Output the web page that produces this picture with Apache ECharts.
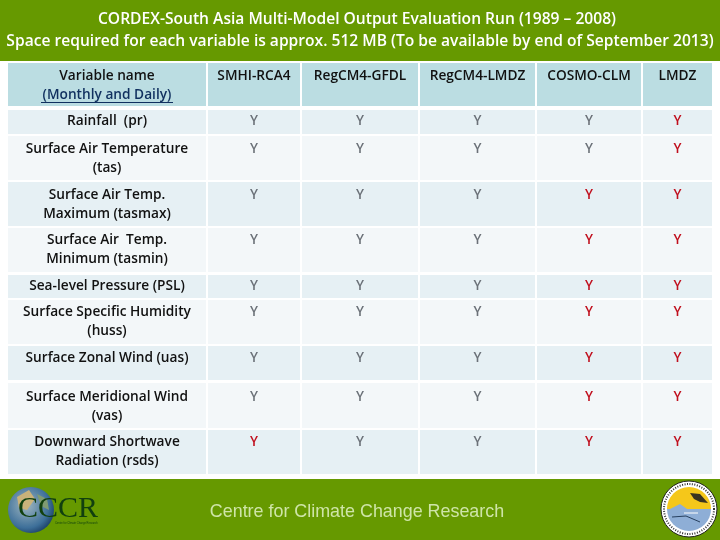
<!DOCTYPE html>
<html lang="en">
<head>
  <meta charset="UTF-8">
  <title>CORDEX-South Asia</title>
  <style>
    html, body, #main { margin: 0; padding: 0; background: #fff; }
    #main { width: 720px; height: 540px; }
  </style>
</head>
<body>
  <div id="main"></div>
  <script src="https://cdn.jsdelivr.net/npm/echarts@6/dist/echarts.min.js"></script>
  <script>
    const titleLines = [
      'CORDEX-South Asia Multi-Model Output Evaluation Run (1989 – 2008)',
      'Space required for each variable is approx. 512 MB (To be available by end of September 2013)'
    ];
    const footerText = 'Centre for Climate Change Research';
    const models = ['SMHI-RCA4', 'RegCM4-GFDL', 'RegCM4-LMDZ', 'COSMO-CLM', 'LMDZ'];
    const variables = [
      ['Rainfall  (pr)'],
      ['Surface Air Temperature', '(tas)'],
      ['Surface Air Temp.', 'Maximum (tasmax)'],
      ['Surface Air  Temp.', 'Minimum (tasmin)'],
      ['Sea-level Pressure (PSL)'],
      ['Surface Specific Humidity', '(huss)'],
      ['Surface Zonal Wind (uas)'],
      ['Surface Meridional Wind', '(vas)'],
      ['Downward Shortwave', 'Radiation (rsds)']
    ];
    // one row per variable, one letter per model: g = grey Y, r = red Y
    const marks = ['ggggr', 'ggggr', 'gggrr', 'gggrr', 'gggrr', 'gggrr', 'gggrr', 'gggrr', 'rggrr'];

    // layout in page pixels
    const colEdges = [[8, 206], [208, 300], [302, 418], [420, 535], [537, 641], [643, 712]];
    const rowEdges = [[63, 106], [110, 134], [136, 180], [182, 226], [228, 272], [275, 298], [300, 344], [346, 380], [383, 428], [430, 474]];
    const rowTextY = [76.5, 121.5, 149.5, 195.5, 240.5, 286.5, 312.5, 358.5, 397.5, 442.5];
    const lineGap = 19;
    const fontName = '"Open Sans", sans-serif';
    const green = '#669900';

    const cells = [];
    rowEdges.forEach((r, row) => colEdges.forEach((c, col) => cells.push([col, row])));

    const cellText = (col, row) => {
      if (row === 0) return col === 0 ? ['Variable name', '(Monthly and Daily)'] : [models[col - 1]];
      if (col === 0) return variables[row - 1];
      return ['Y'];
    };

    const renderCell = (params, api) => {
      const col = api.value(0);
      const row = api.value(1);
      const tl = api.coord([colEdges[col][0], rowEdges[row][0]]);
      const br = api.coord([colEdges[col][1], rowEdges[row][1]]);
      const fill = row === 0 ? '#BBDDE2' : (row % 2 ? '#E6F0F4' : '#F3F7F9');
      const cx = (tl[0] + br[0]) / 2;
      const children = [{
        type: 'rect',
        shape: { x: tl[0], y: tl[1], width: br[0] - tl[0], height: br[1] - tl[1] },
        style: { fill: fill }
      }];
      const isMark = row > 0 && col > 0;
      const red = isMark && marks[row - 1][col - 1] === 'r';
      cellText(col, row).forEach((line, i) => {
        const linked = row === 0 && i === 1;
        children.push({
          type: 'text',
          style: {
            x: cx,
            y: api.coord([0, rowTextY[row] + i * lineGap])[1],
            text: line,
            align: 'center',
            verticalAlign: 'middle',
            font: (isMark ? '600 13.5px ' : '600 13.7px ') + fontName,
            fill: linked ? '#10305f' : (red ? '#c00f1d' : (isMark ? '#6b7178' : '#111'))
          }
        });
      });
      return { type: 'group', children: children };
    };

    const myChart = echarts.init(document.getElementById('main'));
    myChart.setOption({
      animation: false,
      grid: { left: 0, right: 0, top: 0, bottom: 0 },
      xAxis: { type: 'value', min: 0, max: 720, show: false },
      yAxis: { type: 'value', min: 0, max: 540, inverse: true, show: false },
      series: [{
        type: 'custom',
        silent: true,
        coordinateSystem: 'cartesian2d',
        renderItem: renderCell,
        data: cells
      }],
      graphic: [
        { type: 'rect', z: -1, shape: { x: 0, y: 0, width: 720, height: 61 }, style: { fill: green } },
        { type: 'rect', z: -1, shape: { x: 0, y: 479, width: 720, height: 61 }, style: { fill: green } },
        { type: 'text', style: { x: 357, y: 19.5, text: titleLines[0], align: 'center', verticalAlign: 'middle', font: '600 15.6px ' + fontName, fill: '#fff' } },
        { type: 'text', style: { x: 360, y: 41.5, text: titleLines[1], align: 'center', verticalAlign: 'middle', font: '600 15.6px ' + fontName, fill: '#fff' } },
        { type: 'text', style: { x: 357, y: 512, text: footerText, align: 'center', verticalAlign: 'middle', font: '17.9px "Liberation Sans", sans-serif', fill: '#cfe5a8' } },
        { type: 'line', z: 10, shape: { x1: 41, y1: 102.5, x2: 173, y2: 102.5 }, style: { stroke: '#10305f', lineWidth: 1 } },

        // left logo: globe with letters
        { type: 'circle', shape: { cx: 31, cy: 510, r: 23 }, style: { fill: { type: 'radial', x: 0.4, y: 0.4, r: 0.7, colorStops: [{ offset: 0, color: '#9fb6c0' }, { offset: 0.7, color: '#3d6f99' }, { offset: 1, color: '#12335a' }] } } },
        { type: 'polygon', shape: { points: [[17, 497], [29, 490], [35, 499], [27, 510], [19, 508]] }, style: { fill: '#c9b27a' } },
        { type: 'polygon', shape: { points: [[37, 494], [47, 499], [49, 510], [41, 506]] }, style: { fill: '#7f9b72' } },
        { type: 'text', style: { x: 18, y: 509, text: 'CCCR', verticalAlign: 'middle', font: '30px "Liberation Serif", serif', fill: '#11400f' } },
        { type: 'text', style: { x: 55, y: 523, text: 'Centre for Climate Change Research', verticalAlign: 'middle', font: '2.6px "Liberation Sans", sans-serif', fill: '#11400f' } },

        // right logo: round seal
        { type: 'circle', shape: { cx: 689, cy: 509, r: 28 }, style: { fill: '#fff', stroke: '#222', lineWidth: 1 } },
        { type: 'circle', shape: { cx: 689, cy: 509, r: 25 }, style: { fill: 'none', stroke: '#333', lineWidth: 2, lineDash: [1, 1.5] } },
        { type: 'sector', shape: { cx: 689, cy: 509, r: 22, startAngle: Math.PI, endAngle: Math.PI * 2 }, style: { fill: '#f5c71a' } },
        { type: 'sector', shape: { cx: 689, cy: 509, r: 22, startAngle: 0, endAngle: Math.PI }, style: { fill: '#8eaed6' } },
        { type: 'polygon', shape: { points: [[690, 493], [700, 494], [708, 503], [700, 502], [694, 499]] }, style: { fill: '#3a3320' } },
        { type: 'polygon', shape: { points: [[668, 510], [680, 504], [690, 511], [683, 518], [672, 517]] }, style: { fill: '#8eaed6' } },
        { type: 'line', shape: { x1: 684, y1: 513, x2: 698, y2: 513 }, style: { stroke: '#fff', lineWidth: 1 } },
        { type: 'polyline', shape: { points: [[672, 517], [686, 516], [700, 522]] }, style: { stroke: '#27405f', lineWidth: 1, fill: 'none' } }
      ]
    });
  </script>
</body>
</html>
